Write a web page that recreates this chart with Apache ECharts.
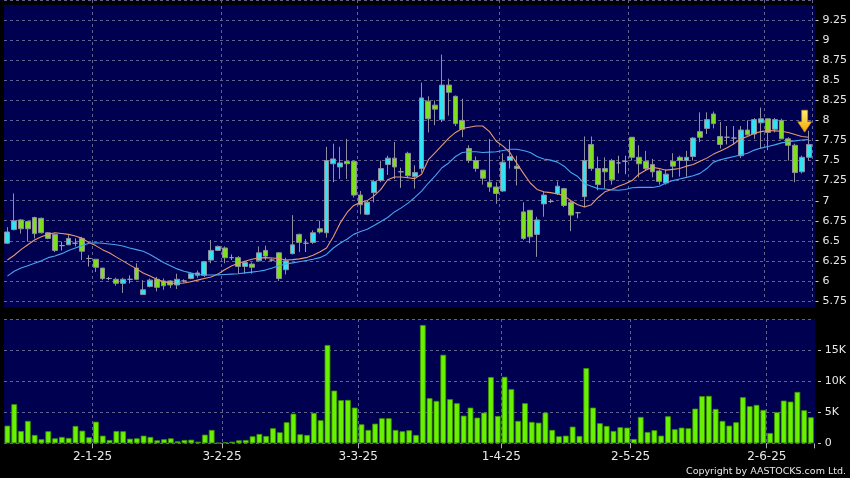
<!DOCTYPE html>
<html><head><meta charset="utf-8">
<script src="https://cdn.jsdelivr.net/npm/echarts@6/dist/echarts.min.js"></script>
<style>html,body{margin:0;padding:0;background:#000;}#c{width:850px;height:478px;}</style>
</head><body><div id="c"></div>
<script>
const categories = [
'12-12-24','13-12-24','16-12-24','17-12-24','18-12-24','19-12-24','20-12-24','23-12-24','24-12-24','27-12-24','30-12-24','31-12-24',
'2-1-25','3-1-25','6-1-25','7-1-25','8-1-25','9-1-25','10-1-25','13-1-25','14-1-25','15-1-25','16-1-25','17-1-25','20-1-25','21-1-25','22-1-25','23-1-25','24-1-25','27-1-25','28-1-25',
'3-2-25','4-2-25','5-2-25','6-2-25','7-2-25','10-2-25','11-2-25','12-2-25','13-2-25','14-2-25','17-2-25','18-2-25','19-2-25','20-2-25','21-2-25','24-2-25','25-2-25','26-2-25','27-2-25','28-2-25',
'3-3-25','4-3-25','5-3-25','6-3-25','7-3-25','10-3-25','11-3-25','12-3-25','13-3-25','14-3-25','17-3-25','18-3-25','19-3-25','20-3-25','21-3-25','24-3-25','25-3-25','26-3-25','27-3-25','28-3-25','31-3-25',
'1-4-25','2-4-25','3-4-25','7-4-25','8-4-25','9-4-25','10-4-25','11-4-25','14-4-25','15-4-25','16-4-25','17-4-25','22-4-25','23-4-25','24-4-25','25-4-25','28-4-25','29-4-25','30-4-25',
'2-5-25','6-5-25','7-5-25','8-5-25','9-5-25','12-5-25','13-5-25','14-5-25','15-5-25','16-5-25','19-5-25','20-5-25','21-5-25','22-5-25','23-5-25','26-5-25','27-5-25','28-5-25','29-5-25','30-5-25',
'2-6-25','3-6-25','4-6-25','5-6-25','6-6-25','9-6-25','10-6-25','11-6-25'];

const tickLabels = ['2-1-25','3-2-25','3-3-25','1-4-25','2-5-25','2-6-25'];

const openP = [6.47,6.64,6.76,6.74,6.79,6.78,6.60,6.58,6.44,6.45,6.47,6.53,6.28,6.27,6.16,6.03,6.02,5.97,6.02,6.16,
5.83,5.93,6.02,6.00,6.00,5.95,6.00,6.03,6.10,6.07,6.26,6.38,6.41,6.29,6.29,6.18,6.21,6.25,6.38,6.26,
6.35,6.14,6.34,6.58,6.47,6.48,6.65,6.60,7.46,7.42,7.49,7.49,7.07,6.83,7.10,7.25,7.45,7.53,7.36,7.59,
7.30,7.40,8.24,8.19,8.01,8.44,8.30,8.00,7.65,7.50,7.38,7.23,7.17,7.12,7.50,7.43,6.86,6.88,6.58,6.96,
6.99,7.09,7.15,6.98,6.85,7.05,7.70,7.40,7.40,7.50,7.47,7.49,7.79,7.54,7.49,7.45,7.37,7.22,7.49,7.54,
7.50,7.55,7.86,7.90,8.08,7.80,7.79,7.78,7.56,7.88,7.83,7.97,8.02,7.89,8.00,7.77,7.69,7.36,7.54];
const closeP = [6.61,6.75,6.65,6.65,6.59,6.60,6.53,6.38,6.44,6.53,6.47,6.37,6.28,6.17,6.03,6.03,5.97,6.02,6.02,6.02,
5.89,6.01,5.92,5.94,5.95,6.02,6.00,6.09,6.07,6.24,6.38,6.43,6.29,6.29,6.18,6.23,6.17,6.35,6.31,6.26,
6.03,6.25,6.45,6.48,6.47,6.60,6.61,7.50,7.52,7.47,7.46,7.07,6.95,6.98,7.24,7.40,7.53,7.42,7.36,7.31,
7.35,8.28,8.02,8.14,8.44,8.35,7.96,7.89,7.50,7.40,7.28,7.17,7.09,7.48,7.55,7.40,6.53,6.55,6.76,7.07,
6.99,7.18,6.94,6.82,6.85,7.50,7.40,7.20,7.36,7.26,7.47,7.49,7.54,7.46,7.40,7.36,7.24,7.33,7.43,7.50,
7.54,7.78,7.79,8.01,7.96,7.70,7.79,7.78,7.88,7.82,8.01,8.02,7.85,8.01,7.77,7.69,7.35,7.54,7.70];
const lowP = [6.46,6.63,6.59,6.49,6.53,6.59,6.52,6.36,6.38,6.45,6.43,6.26,6.18,6.11,6.01,6.01,5.94,5.85,5.97,6.01,
5.83,5.92,5.87,5.89,5.91,5.90,5.98,6.02,6.04,6.05,6.22,6.38,6.22,6.26,6.09,6.09,6.09,6.24,6.26,6.24,
6.00,6.08,6.33,6.36,6.36,6.46,6.59,6.54,7.23,7.27,7.27,7.04,6.83,6.82,6.98,7.23,7.32,7.27,7.16,7.28,
7.15,7.35,7.85,7.94,7.98,8.06,7.93,7.79,7.47,7.36,7.20,7.11,6.96,7.11,7.40,7.19,6.51,6.47,6.30,6.80,
6.97,7.07,6.92,6.62,6.78,6.92,7.37,7.13,7.15,7.20,7.34,7.33,7.50,7.29,7.37,7.29,7.20,7.20,7.29,7.30,
7.30,7.50,7.73,7.83,7.90,7.65,7.70,7.70,7.53,7.81,7.77,7.65,7.63,7.85,7.77,7.50,7.23,7.34,7.50];
const highP = [6.67,7.09,6.77,6.75,6.80,6.79,6.61,6.59,6.49,6.57,6.53,6.55,6.32,6.27,6.16,6.05,6.04,6.04,6.07,6.22,
6.01,6.03,6.05,6.03,6.01,6.09,6.02,6.10,6.13,6.25,6.51,6.44,6.43,6.33,6.31,6.25,6.23,6.43,6.44,6.28,
6.36,6.29,6.82,6.59,6.52,6.63,6.75,7.67,7.71,7.67,7.77,7.50,7.12,7.00,7.26,7.50,7.56,7.73,7.41,7.61,
7.44,8.47,8.30,8.25,8.82,8.52,8.31,8.27,7.69,7.55,7.38,7.77,7.23,7.59,7.76,7.56,6.98,6.88,6.80,7.11,
7.02,7.24,7.16,7.00,6.86,7.80,7.80,7.55,7.54,7.52,7.56,7.56,7.79,7.69,7.62,7.52,7.39,7.39,7.59,7.56,
7.62,7.79,8.10,8.10,8.11,7.98,7.93,7.93,7.93,8.00,8.03,8.16,8.02,8.03,8.02,7.79,7.71,7.56,7.87];

const ma10 = [6.26,6.32,6.39,6.45,6.51,6.55,6.58,6.60,6.59,6.58,6.56,6.53,6.48,6.44,6.39,6.35,6.30,6.25,6.20,6.15,
6.10,6.06,6.02,5.99,5.975,5.97,5.975,5.99,6.01,6.03,6.05,6.085,6.14,6.185,6.22,6.245,6.27,6.285,6.29,6.285,
6.28,6.26,6.265,6.275,6.29,6.32,6.36,6.41,6.55,6.72,6.85,6.94,6.98,7.00,7.06,7.14,7.26,7.295,7.295,7.285,
7.275,7.33,7.51,7.60,7.69,7.78,7.85,7.90,7.915,7.93,7.93,7.86,7.74,7.68,7.60,7.47,7.34,7.22,7.14,7.11,
7.10,7.085,7.06,7.00,6.95,6.92,6.95,7.04,7.11,7.14,7.18,7.21,7.25,7.33,7.38,7.415,7.40,7.38,7.39,7.40,
7.43,7.45,7.49,7.53,7.58,7.62,7.66,7.71,7.77,7.80,7.84,7.86,7.875,7.87,7.865,7.85,7.825,7.80,7.79];
const ma20 = [6.06,6.12,6.16,6.19,6.22,6.25,6.29,6.31,6.34,6.38,6.41,6.44,6.47,6.475,6.47,6.46,6.45,6.435,6.41,6.39,
6.37,6.33,6.28,6.23,6.19,6.15,6.12,6.10,6.08,6.075,6.073,6.075,6.08,6.085,6.09,6.10,6.11,6.12,6.135,6.16,
6.19,6.21,6.225,6.24,6.255,6.27,6.29,6.33,6.41,6.47,6.52,6.58,6.615,6.645,6.69,6.74,6.79,6.86,6.91,6.97,
7.04,7.12,7.22,7.31,7.41,7.47,7.55,7.60,7.61,7.61,7.60,7.605,7.61,7.625,7.64,7.64,7.625,7.60,7.55,7.52,
7.505,7.48,7.43,7.35,7.30,7.21,7.18,7.15,7.145,7.135,7.13,7.14,7.16,7.165,7.165,7.165,7.18,7.22,7.25,7.27,
7.29,7.31,7.34,7.40,7.48,7.51,7.53,7.55,7.57,7.59,7.63,7.655,7.675,7.695,7.72,7.735,7.745,7.755,7.76];

const volume = [2840,6290,1980,3600,1340,650,1940,800,1020,860,2790,2030,970,3480,1230,530,1980,1940,740,800,
1230,1020,480,650,800,320,530,580,260,1390,2150,60,160,260,480,530,1130,1500,1180,2420,
1770,3390,4770,1450,1340,4890,3710,15810,8480,6940,6980,5740,3060,2150,3160,4030,4030,2150,1940,2100,
1340,19030,7260,6820,14240,7100,6450,4450,5740,4130,4940,10650,4400,10700,8710,3600,6450,3440,3320,4940,
2150,1130,1230,2680,1180,12100,5740,3230,2790,1980,2580,2520,690,4240,1820,2100,1230,4350,2260,2520,
2420,5580,7580,7630,5530,3600,2840,3390,7420,5970,6180,5370,1660,5000,6870,6710,8270,5320,4190];

const candleData = categories.map((c, i) => [openP[i], closeP[i], lowP[i], highP[i]]);
const labelSet = new Set(tickLabels);
const isLabel = (idx, val) => labelSet.has(val);
const isBoundary = (idx) => idx > 0 && labelSet.has(categories[idx - 1]);

const gridLine = { color: '#62628f', type: [3, 3], width: 1 };
const txt = '#e8e8e8';
const FONT = 'DejaVu Sans';
const NAVY = '#000050';

const chart = echarts.init(document.getElementById('c'));
chart.setOption({
  animation: false,
  backgroundColor: '#000000',
  graphic: [
    { type: 'rect', z: -10, silent: true, shape: { x: 4, y: 5, width: 810.4, height: 302 }, style: { fill: NAVY } },
    { type: 'rect', z: 50, silent: true, shape: { x: 813.9, y: 5, width: 1.2, height: 302 }, style: { fill: NAVY } },
    { type: 'rect', z: 50, silent: true, shape: { x: 813.9, y: 319, width: 1.2, height: 124.3 }, style: { fill: NAVY } },
    { type: 'text', silent: true, x: 846, y: 471.5, style: { text: 'Copyright by AASTOCKS.com Ltd.', fill: txt, font: '9.5px "DejaVu Sans"', textAlign: 'right', textVerticalAlign: 'middle' } }
  ],
  grid: [
    { left: 4, width: 810.4, top: -0.875, height: 301.875, show: false },
    { left: 4, width: 810.4, top: 319, height: 124.3, show: true, backgroundColor: NAVY, borderWidth: 0 }
  ],
  xAxis: [
    { type: 'category', gridIndex: 0, data: categories, boundaryGap: true,
      axisLine: { show: false }, axisTick: { show: false }, axisLabel: { show: false },
      splitLine: { show: true, interval: isBoundary, lineStyle: gridLine } },
    { type: 'category', gridIndex: 1, data: categories, boundaryGap: true,
      axisLine: { show: false },
      axisTick: { show: true, interval: isBoundary, length: 5, lineStyle: { color: '#b0b0b0' } },
      axisLabel: { show: true, interval: isLabel, margin: 8, color: txt, fontFamily: FONT, fontSize: 12,
        formatter: v => '{a|' + v + '}', rich: { a: { padding: [0, 0, 0, 7], color: txt, fontFamily: FONT, fontSize: 12 } } },
      splitLine: { show: true, interval: isBoundary, lineStyle: gridLine } }
  ],
  yAxis: [
    { type: 'value', gridIndex: 0, position: 'right', min: 5.75, max: 9.5, interval: 0.25,
      axisLine: { show: false }, axisTick: { show: false },
      splitLine: { show: true, lineStyle: gridLine },
      axisLabel: { color: txt, fontFamily: FONT, fontSize: 11, margin: 3,
        formatter: v => v > 9.3 ? '' : '- ' + parseFloat(v.toFixed(2)) } },
    { type: 'value', gridIndex: 1, position: 'right', min: 0, max: 20000, interval: 5000,
      axisLine: { show: false }, axisTick: { show: false },
      splitLine: { show: true, lineStyle: gridLine },
      axisLabel: { color: txt, fontFamily: FONT, fontSize: 11, margin: 3,
        formatter: v => v >= 20000 ? '' : '- ' + (v === 0 ? '0' : (v / 1000) + 'K') } }
  ],
  series: [
    { type: 'candlestick', xAxisIndex: 0, yAxisIndex: 0, data: candleData, barWidth: '78%',
      itemStyle: { color: '#30e2f2', color0: '#7ee01c', borderColor: '#8e8e9e', borderColor0: '#8e8e9e', borderColorDoji: '#9a9aaa', borderWidth: 1 },
      markPoint: {
        silent: true,
        data: [{ coord: [categories[categories.length - 1], 7.99] }],
        symbol: 'path://M4,0 L10,0 L10,11 L14,11 L7,21 L0,11 L4,11 Z',
        symbolSize: [14, 22], symbolOffset: [-4, 0],
        label: { show: false },
        itemStyle: { color: new echarts.graphic.LinearGradient(0, 0, 0, 1, [{ offset: 0, color: '#fff07a' }, { offset: 1, color: '#f2a400' }]), borderColor: '#c98a00', borderWidth: 0.6 }
      } },
    { type: 'line', xAxisIndex: 0, yAxisIndex: 0, data: ma10, symbol: 'none', lineStyle: { color: '#e6996c', width: 1.1 }, z: 3 },
    { type: 'line', xAxisIndex: 0, yAxisIndex: 0, data: ma20, symbol: 'none', lineStyle: { color: '#45a4f0', width: 1.1 }, z: 3 },
    { type: 'bar', xAxisIndex: 1, yAxisIndex: 1, data: volume, barWidth: '84%',
      itemStyle: { color: '#68f200', borderColor: '#3f9400', borderWidth: 0.8 } }
  ]
});
</script></body></html>
